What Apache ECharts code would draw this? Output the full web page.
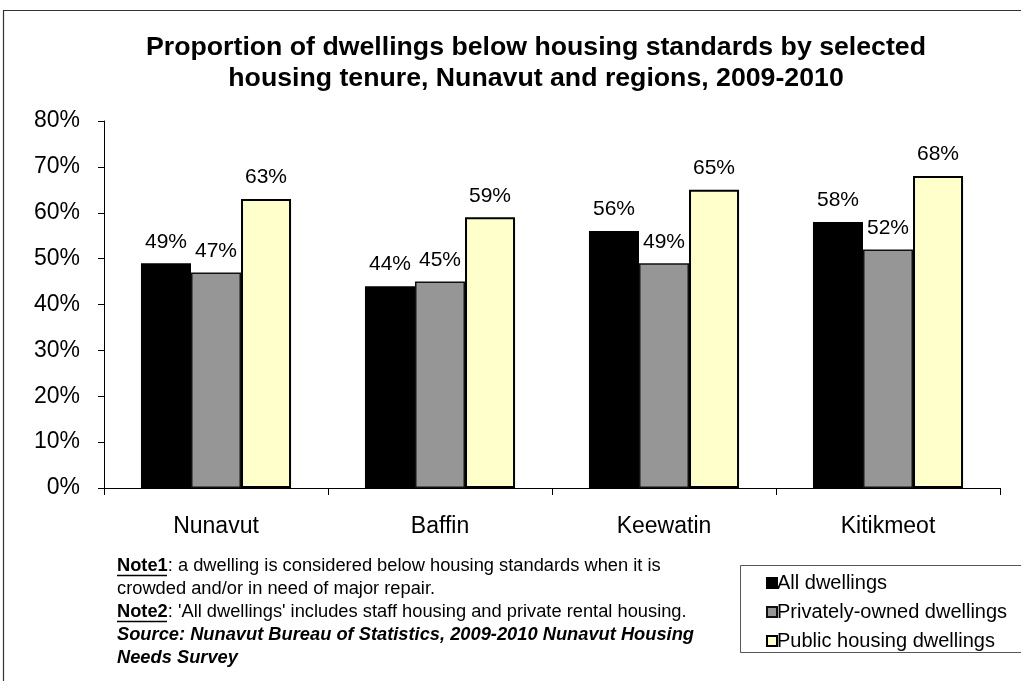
<!DOCTYPE html>
<html>
<head>
<meta charset="utf-8">
<title>Dwellings below housing standards</title>
<script src="https://cdn.jsdelivr.net/npm/echarts@6/dist/echarts.min.js"></script>
<style>
    html, body { margin: 0; padding: 0; background: #fff; }
    #housingChart { width: 1021px; height: 681px; }
</style>
</head>
<body>
<div id="housingChart"></div>
<script>
    // 数据
    const regions = ['Nunavut', 'Baffin', 'Keewatin', 'Kitikmeot']
    const allDwellings = [49, 44, 56, 58]
    const privateDwellings = [47, 45, 49, 52]
    const publicDwellings = [63, 59, 65, 68]
    const yTicks = [0, 10, 20, 30, 40, 50, 60, 70, 80]

    const font = "'Liberation Sans', Arial, sans-serif"

    const barLabel = {
        show: true,
        position: 'top',
        distance: 11,
        formatter: '{c}%',
        color: '#000',
        fontSize: 21,
        fontFamily: font
    }

    const _housingChart = {
        animation: false,
        title: {
            text: 'Proportion of dwellings below housing standards by selected\nhousing tenure, Nunavut and regions, 2009-2010',
            left: 531,
            top: 27,
            textAlign: 'center',
            textStyle: {
                fontFamily: font,
                fontSize: 26.7,
                fontWeight: 'bold',
                color: '#000',
                lineHeight: 31
            }
        },
        legend: {
            orient: 'vertical',
            left: 761,
            top: 568,
            icon: 'rect',
            itemWidth: 10,
            itemHeight: 10,
            itemGap: 9,
            data: ['All dwellings', 'Privately-owned dwellings', 'Public housing dwellings'],
            textStyle: {
                fontFamily: font,
                fontSize: 20,
                color: '#000',
                padding: [0, 0, 0, -5]
            }
        },
        grid: {
            left: 104,
            right: 21,
            top: 121,
            bottom: 193
        },
        xAxis: {
            type: 'category',
            data: regions,
            axisLine: { lineStyle: { color: '#000', width: 1 } },
            axisTick: { show: true, length: 7, lineStyle: { color: '#000' } },
            axisLabel: {
                margin: 27,
                fontFamily: font,
                fontSize: 23,
                color: '#000'
            }
        },
        yAxis: {
            type: 'value',
            min: yTicks[0],
            max: yTicks[yTicks.length - 1],
            interval: yTicks[1] - yTicks[0],
            splitLine: { show: false },
            axisLine: { show: true, lineStyle: { color: '#000', width: 1 } },
            axisTick: { show: true, length: 6, lineStyle: { color: '#000' } },
            axisLabel: {
                formatter: '{value}%',
                margin: 24,
                fontFamily: font,
                fontSize: 23,
                color: '#000'
            }
        },
        series: [
            {
                name: 'All dwellings',
                type: 'bar',
                data: allDwellings,
                barGap: 0,
                barCategoryGap: '33%',
                itemStyle: { color: '#000000', borderColor: '#000', borderWidth: 1.5 },
                label: barLabel
            },
            {
                name: 'Privately-owned dwellings',
                type: 'bar',
                data: privateDwellings,
                itemStyle: { color: '#969696', borderColor: '#111', borderWidth: 1.5 },
                label: barLabel
            },
            {
                name: 'Public housing dwellings',
                type: 'bar',
                data: publicDwellings,
                itemStyle: { color: '#FFFFCC', borderColor: '#000', borderWidth: 2 },
                label: barLabel
            }
        ],
        graphic: [
            // 外框
            {
                type: 'rect',
                shape: { x: 3.5, y: 10.5, width: 1100, height: 700 },
                style: { fill: 'none', stroke: '#333', lineWidth: 1.2 },
                silent: true
            },
            // 图例框
            {
                type: 'rect',
                shape: { x: 740.5, y: 565.5, width: 400, height: 87 },
                style: { fill: 'none', stroke: '#555', lineWidth: 1 },
                silent: true
            },
            // 注释
            {
                type: 'text',
                left: 117,
                top: 554,
                style: {
                    text: '{b|Note1}: a dwelling is considered below housing standards when it is\n' +
                        'crowded and/or in need of major repair.\n' +
                        '{b|Note2}: \'All dwellings\' includes staff housing and private rental housing.\n' +
                        '{s|Source: Nunavut Bureau of Statistics, 2009-2010 Nunavut Housing}\n' +
                        '{s|Needs Survey}',
                    fontFamily: font,
                    fontSize: 18.3,
                    lineHeight: 23,
                    fill: '#000',
                    rich: {
                        b: { fontFamily: font, fontSize: 18.3, fontWeight: 'bold', lineHeight: 23 },
                        s: { fontFamily: font, fontSize: 18.3, fontWeight: 'bold', fontStyle: 'italic', lineHeight: 23 }
                    }
                }
            },
            {
                type: 'line',
                shape: { x1: 117, y1: 575.5, x2: 167, y2: 575.5 },
                style: { stroke: '#000', lineWidth: 1.5 }
            },
            {
                type: 'line',
                shape: { x1: 117, y1: 621.5, x2: 167, y2: 621.5 },
                style: { stroke: '#000', lineWidth: 1.5 }
            }
        ]
    }

    const housingChart = echarts.init(document.getElementById('housingChart'))
    housingChart.setOption(_housingChart)
    window.addEventListener('resize', function () {
        housingChart.resize()
    })
</script>
</body>
</html>
